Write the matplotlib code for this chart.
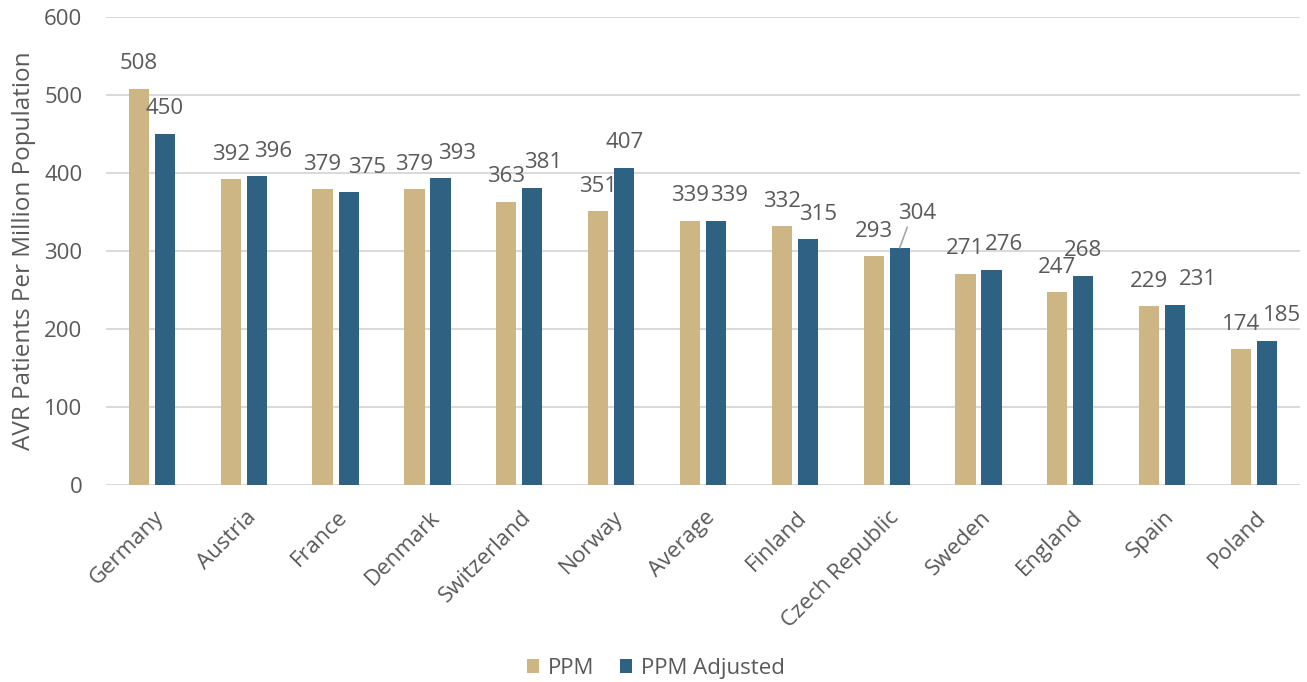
import matplotlib.pyplot as plt
import numpy as np
from matplotlib.transforms import ScaledTranslation

countries = ['Germany', 'Austria', 'France', 'Denmark', 'Switzerland', 'Norway',
             'Average', 'Finland', 'Czech Republic', 'Sweden', 'England', 'Spain', 'Poland']
ppm = [508, 392, 379, 379, 363, 351, 339, 332, 293, 271, 247, 229, 174]
ppm_adjusted = [450, 396, 375, 393, 381, 407, 339, 315, 304, 276, 268, 231, 185]

# sideways nudge (px) for the adjusted-series labels so they don't collide
adj_label_dx = [0, 16, 18, 17, 11, 0, 13, 10, 17, 12, 0, 23, 15]

tan = '#CDB683'
blue = '#2F6282'
grey_text = '#595959'
fs = 16

plt.rcParams['font.family'] = ['Open Sans', 'DejaVu Sans']
plt.rcParams['font.size'] = fs

fig = plt.figure(figsize=(13.07, 6.82), dpi=100)
ax = fig.add_axes([0.0811, 0.2889, 0.9135, 0.6862])

x = np.arange(len(countries))
w = 0.22
off = 0.142
ax.bar(x - off, ppm, w, color=tan, label='PPM', zorder=3)
ax.bar(x + off, ppm_adjusted, w, color=blue, label='PPM Adjusted', zorder=3)

ax.set_xlim(-0.5, len(countries) - 0.5)
ax.set_ylim(0, 600)
ax.set_yticks(range(0, 601, 100))
ax.grid(axis='y', color='#d9d9d9', lw=1.4, zorder=0)
for s in ax.spines.values():
    s.set_visible(False)
ax.tick_params(axis='both', length=0, colors=grey_text, labelsize=fs)
ax.tick_params(axis='y', pad=17)

ax.set_xticks(x)
ax.set_xticklabels(countries, rotation=45, ha='right', va='center',
                   rotation_mode='anchor')
ax.tick_params(axis='x', pad=21)
shift = ScaledTranslation(0.09, 0, fig.dpi_scale_trans)
for lab in ax.get_xticklabels():
    lab.set_transform(lab.get_transform() + shift)

ax.set_ylabel('AVR Patients Per Million Population', color=grey_text, fontsize=17.5,
              labelpad=6)

# value labels
for i, v in enumerate(ppm):
    ax.annotate(str(v), (x[i] - off, v), xytext=(0, 25), textcoords='offset pixels',
                ha='center', va='center', color=grey_text, fontsize=fs)
for i, v in enumerate(ppm_adjusted):
    if countries[i] == 'Czech Republic':
        ax.annotate(str(v), (x[i] + off, v), xytext=(adj_label_dx[i], 34),
                    textcoords='offset pixels', ha='center', va='center',
                    color=grey_text, fontsize=fs,
                    arrowprops=dict(arrowstyle='-', color='#a6a6a6', lw=1.2,
                                    shrinkA=0, shrinkB=0, relpos=(0.3, 0.1)))
    else:
        ax.annotate(str(v), (x[i] + off, v), xytext=(adj_label_dx[i], 25),
                    textcoords='offset pixels', ha='center', va='center',
                    color=grey_text, fontsize=fs)

leg = fig.legend(loc='center', bbox_to_anchor=(0.502, 0.02), ncol=2, frameon=False,
                 handlelength=0.55, handleheight=0.55, handletextpad=0.4,
                 columnspacing=1.15, fontsize=fs)
for t in leg.get_texts():
    t.set_color(grey_text)

fig.savefig('out.png', dpi=100)
